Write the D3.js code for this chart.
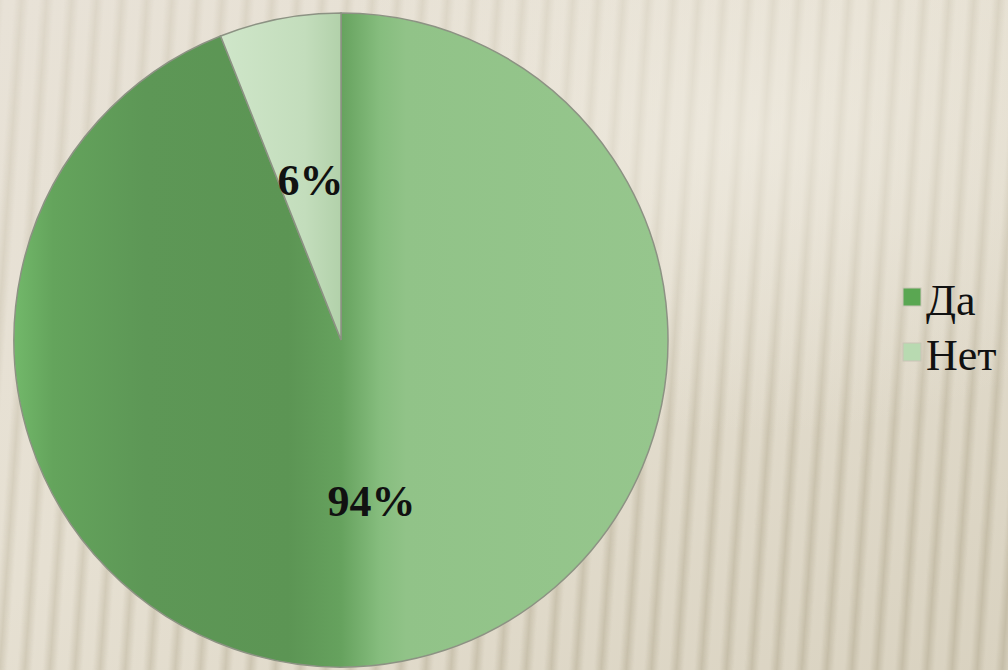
<!DOCTYPE html>
<html>
<head>
<meta charset="utf-8">
<script src="https://d3js.org/d3.v7.min.js"></script>
<style>
  html, body { margin: 0; padding: 0; overflow: hidden; }
  body { width: 1008px; height: 670px; }
</style>
</head>
<body>
<script>
// datos
var categorias = ["Да", "Нет"];
var valores = [94, 6];
var etiquetas = ["94%", "6%"];

var width = 1008, height = 670;
var cx = 341, cy = 340, radio = 327;
var fuente = "'Liberation Serif', 'DejaVu Serif', 'Times New Roman', serif";

var svg = d3.select("body").append("svg")
    .attr("width", width)
    .attr("height", height);

var defs = svg.append("defs");

// fondo: degradado base + rayas verticales mas marcadas abajo a la derecha
var base = defs.append("linearGradient").attr("id", "gradBase")
    .attr("x1", 0).attr("y1", 0).attr("x2", 1).attr("y2", 1);
base.append("stop").attr("offset", "0%").attr("stop-color", "#e8e2d7");
base.append("stop").attr("offset", "45%").attr("stop-color", "#e6e0d2");
base.append("stop").attr("offset", "100%").attr("stop-color", "#d9d2c0");

var rayas = defs.append("linearGradient").attr("id", "gradRaya");
rayas.append("stop").attr("offset", "0%").attr("stop-color", "#c2baa4").attr("stop-opacity", 0);
rayas.append("stop").attr("offset", "40%").attr("stop-color", "#c2baa4").attr("stop-opacity", 0);
rayas.append("stop").attr("offset", "70%").attr("stop-color", "#c2baa4").attr("stop-opacity", 0.85);
rayas.append("stop").attr("offset", "100%").attr("stop-color", "#c2baa4").attr("stop-opacity", 0);

var patron = defs.append("pattern")
    .attr("id", "patRayas")
    .attr("patternUnits", "userSpaceOnUse")
    .attr("width", 25).attr("height", 2000)
    .attr("x", 4).attr("y", -600)
    .attr("patternTransform", "rotate(4)");
patron.append("rect").attr("width", 25).attr("height", 2000).attr("fill", "url(#gradRaya)");

var mascaraGrad = defs.append("linearGradient").attr("id", "gradMascara")
    .attr("x1", 0).attr("y1", 0).attr("x2", 0.8).attr("y2", 1);
mascaraGrad.append("stop").attr("offset", "0%").attr("stop-color", "#fff").attr("stop-opacity", 0.3);
mascaraGrad.append("stop").attr("offset", "50%").attr("stop-color", "#fff").attr("stop-opacity", 0.55);
mascaraGrad.append("stop").attr("offset", "100%").attr("stop-color", "#fff").attr("stop-opacity", 1);

defs.append("mask").attr("id", "mascara")
    .append("rect").attr("width", width).attr("height", height).attr("fill", "url(#gradMascara)");

var brillo = defs.append("radialGradient").attr("id", "gradBrillo")
    .attr("cx", "0.75").attr("cy", "0.2").attr("r", "0.45");
brillo.append("stop").attr("offset", "0%").attr("stop-color", "#f1ede3").attr("stop-opacity", 0.6);
brillo.append("stop").attr("offset", "100%").attr("stop-color", "#f1ede3").attr("stop-opacity", 0);

svg.append("rect").attr("width", width).attr("height", height).attr("fill", "url(#gradBase)");
svg.append("rect").attr("width", width).attr("height", height)
    .attr("fill", "url(#patRayas)").attr("mask", "url(#mascara)");
svg.append("rect").attr("width", width).attr("height", height).attr("fill", "url(#gradBrillo)");

// gradientes del pastel (coordenadas relativas al centro)
var gDa = defs.append("linearGradient").attr("id", "gradDa")
    .attr("gradientUnits", "userSpaceOnUse")
    .attr("x1", -radio).attr("x2", radio).attr("y1", 0).attr("y2", 0);
[[0, "#72b86a"], [0.06, "#64a45c"], [0.2, "#5d9756"], [0.42, "#5c9554"],
 [0.5, "#66a25e"], [0.56, "#86bd7e"], [0.6, "#91c388"], [1, "#96c68d"]]
  .forEach(function (s) {
    gDa.append("stop").attr("offset", s[0]).attr("stop-color", s[1]);
  });

var gNo = defs.append("linearGradient").attr("id", "gradNo")
    .attr("x1", 0).attr("x2", 1).attr("y1", 0).attr("y2", 0);
gNo.append("stop").attr("offset", "0%").attr("stop-color", "#cfe6c9");
gNo.append("stop").attr("offset", "70%").attr("stop-color", "#c3ddbc");
gNo.append("stop").attr("offset", "100%").attr("stop-color", "#b2d1aa");

var colores = d3.scaleOrdinal()
    .domain(categorias)
    .range(["url(#gradDa)", "url(#gradNo)"]);

var coloresLeyenda = d3.scaleOrdinal()
    .domain(categorias)
    .range(["#5aa752", "#b8dab1"]);

var datos = categorias.map(function (c, i) {
    return { categoria: c, valor: valores[i], etiqueta: etiquetas[i] };
});

var pie = d3.pie()
    .sort(null)
    .value(function (d) { return d.valor; });

var arco = d3.arc().innerRadius(0).outerRadius(radio);
var arcoEtiqueta = d3.arc().innerRadius(163).outerRadius(163);

var gPie = svg.append("g")
    .attr("transform", "translate(" + cx + "," + cy + ")");

gPie.selectAll("path")
    .data(pie(datos))
    .join("path")
    .attr("d", arco)
    .attr("fill", function (d) { return colores(d.data.categoria); })
    .attr("stroke", "#8c9283")
    .attr("stroke-width", 1.5);

gPie.selectAll("text")
    .data(pie(datos))
    .join("text")
    .attr("transform", function (d) { return "translate(" + arcoEtiqueta.centroid(d) + ")"; })
    .attr("text-anchor", "middle")
    .attr("dy", "0.35em")
    .style("font-family", fuente)
    .style("font-weight", "bold")
    .style("font-size", "44px")
    .style("fill", "#111")
    .text(function (d) { return d.data.etiqueta; });

// leyenda
var leyenda = svg.append("g").attr("transform", "translate(903,288)");
var items = leyenda.selectAll("g")
    .data(categorias)
    .join("g")
    .attr("transform", function (d, i) { return "translate(0," + (i * 55) + ")"; });

items.append("rect")
    .attr("width", 18).attr("height", 18)
    .attr("fill", function (d) { return coloresLeyenda(d); })
    .attr("stroke", "#c9c4b6")
    .attr("stroke-width", 1);

items.append("text")
    .attr("x", 23)
    .attr("y", 27)
    .style("font-family", fuente)
    .style("font-size", "44px")
    .style("fill", "#111")
    .text(function (d) { return d; });
</script>
</body>
</html>
